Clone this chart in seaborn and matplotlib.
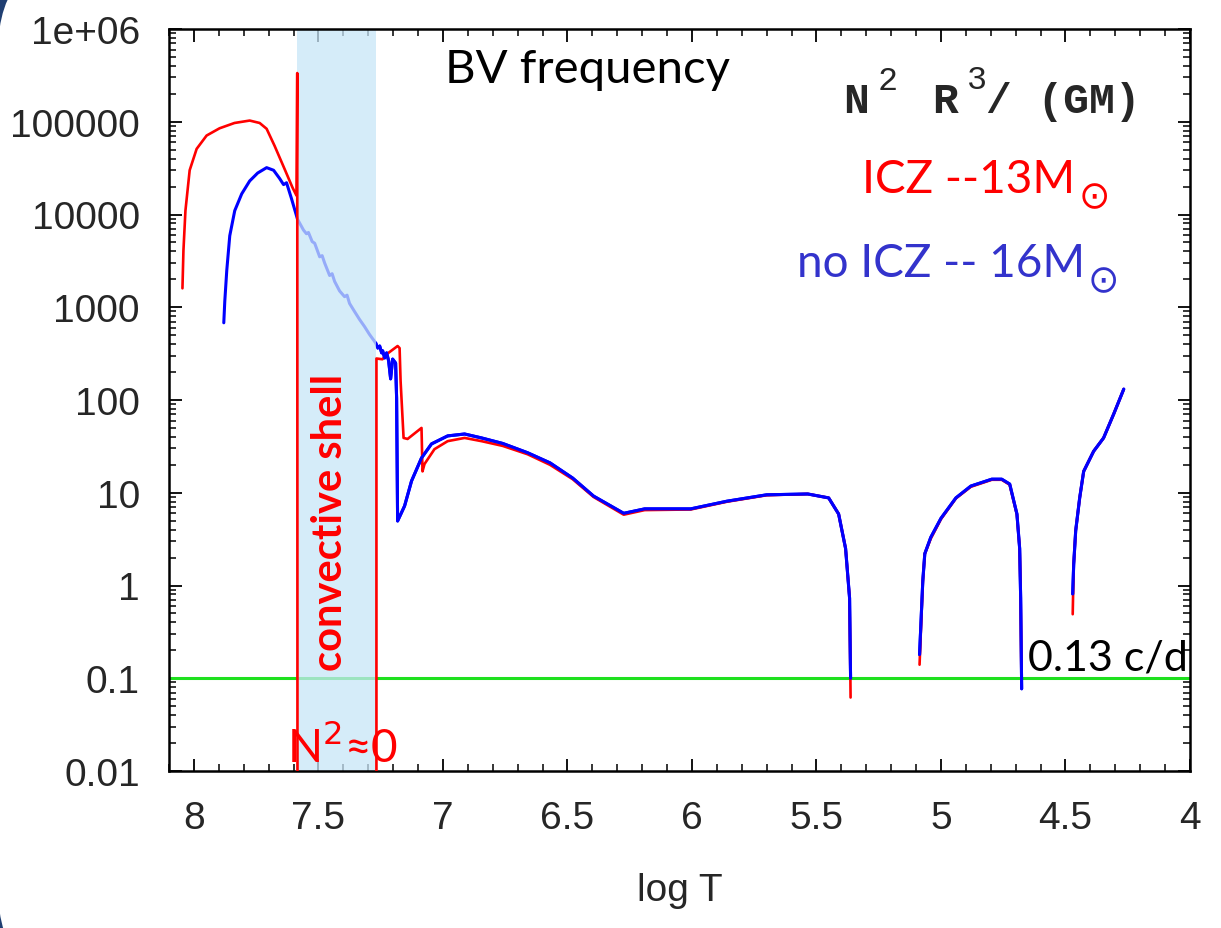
import matplotlib
matplotlib.use("Agg")
import matplotlib.pyplot as plt
import matplotlib.transforms as mtransforms
from matplotlib.patches import FancyBboxPatch, Rectangle
from matplotlib.ticker import FixedLocator, MultipleLocator, LogLocator, NullFormatter
import numpy as np
import pandas as pd
import seaborn as sns

# --- data (log T vs N^2 R^3/(GM)) ---
# ICZ model, 13 Msun
red_core_logT = [8.046, 8.042, 8.034, 8.017, 7.989, 7.949, 7.897, 7.837, 7.776, 7.736,
                 7.708, 7.676, 7.636, 7.604, 7.588, 7.585, 7.584]
red_core_N2 = [1600, 4100, 11000, 30000, 51000, 71000, 85000, 97000, 103000, 97000,
               84000, 55000, 31000, 19500, 16000, 335000, 1e-3]

red_env_logT = [7.267, 7.267, 7.243, 7.223, 7.182, 7.174, 7.170, 7.158, 7.142, 7.086,
                7.082, 7.074, 7.034, 6.981, 6.913, 6.845, 6.760, 6.660, 6.570, 6.479,
                6.395, 6.274, 6.190, 6.005, 5.860, 5.700, 5.535, 5.451, 5.411, 5.383,
                5.367, 5.363]
red_env_N2 = [1e-3, 280, 275, 316, 382, 363, 160, 39, 38, 50,
              17, 20.4, 29.5, 36, 39, 36, 32, 26, 20, 14,
              9.0, 5.8, 6.5, 6.6, 8.0, 9.4, 9.7, 8.8, 5.9, 2.5,
              0.73, 0.062]

red_mid_logT = [5.086, 5.073, 5.065, 5.041, 5.000, 4.940, 4.880, 4.796, 4.756, 4.724,
                4.695, 4.684, 4.680, 4.677]
red_mid_N2 = [0.14, 1.1, 2.2, 3.2, 5.2, 8.7, 11.6, 13.8, 13.8, 12.2,
              5.8, 2.5, 0.73, 0.1]

red_out_logT = [4.471, 4.467, 4.459, 4.443, 4.427, 4.387, 4.347, 4.306, 4.266]
red_out_N2 = [0.49, 1.7, 3.9, 8.8, 17, 28, 39, 71, 131]

# no ICZ model, 16 Msun
blue_in_logT = [7.880, 7.876, 7.868, 7.856, 7.836, 7.808, 7.776, 7.744, 7.708, 7.680,
                7.656, 7.640, 7.628, 7.608, 7.584, 7.560, 7.548, 7.540, 7.525, 7.515,
                7.495, 7.485, 7.475, 7.455, 7.445, 7.435, 7.415, 7.395, 7.385, 7.375,
                7.355, 7.335, 7.315, 7.295, 7.270, 7.262, 7.254, 7.246, 7.242, 7.234,
                7.226, 7.218, 7.210, 7.202, 7.190, 7.186, 7.182, 7.154, 7.126, 7.086,
                7.046, 6.981, 6.913, 6.845, 6.760, 6.660, 6.570, 6.479, 6.395, 6.274,
                6.190, 6.005, 5.860, 5.700, 5.535, 5.451, 5.411, 5.383, 5.367, 5.363]
blue_in_N2 = [680, 1160, 2500, 5900, 11000, 16700, 23000, 28000, 32000, 30000,
              24500, 21000, 22000, 14800, 8900, 6800, 6200, 6400, 5100, 4900,
              3500, 3600, 3000, 2200, 2300, 1900, 1500, 1300, 1350, 1100,
              900, 740, 620, 510, 412, 363, 382, 322, 339, 284,
              322, 264, 169, 276, 250, 105, 4.96, 7.2, 13.4, 23.7,
              33.6, 41, 43, 39, 34, 27, 21, 14.4, 9.2, 6.0,
              6.7, 6.7, 8.1, 9.5, 9.7, 8.8, 5.9, 2.5, 0.73, 0.1]

blue_mid_logT = [5.086, 5.073, 5.065, 5.041, 5.000, 4.940, 4.880, 4.796, 4.756, 4.724,
                 4.695, 4.684, 4.680, 4.676]
blue_mid_N2 = [0.18, 1.12, 2.2, 3.3, 5.3, 8.8, 11.8, 14, 14, 12.4,
               5.9, 2.5, 0.73, 0.077]

blue_out_logT = [4.471, 4.467, 4.459, 4.443, 4.427, 4.387, 4.347, 4.306, 4.266]
blue_out_N2 = [0.81, 1.7, 3.9, 8.8, 17, 28, 39, 71, 131]

shell_logT = [7.585, 7.267]      # convective shell edges
freq_limit = 0.1                 # 0.13 c/d line

xtick_vals = [8, 7.5, 7, 6.5, 6, 5.5, 5, 4.5, 4]
xtick_labels = ["8", "7.5", "7", "6.5", "6", "5.5", "5", "4.5", "4"]
ytick_vals = [1e6, 1e5, 1e4, 1e3, 100, 10, 1, 0.1, 0.01]
ytick_labels = ["1e+06", "100000", "10000", "1000", "100", "10", "1", "0.1", "0.01"]


def make_df(segments):
    frames = []
    for i, (x, y) in enumerate(segments):
        frames.append(pd.DataFrame({"logT": x, "N2": y, "seg": i}))
    return pd.concat(frames, ignore_index=True)


red_df = make_df([(red_core_logT, red_core_N2), (red_env_logT, red_env_N2),
                  (red_mid_logT, red_mid_N2), (red_out_logT, red_out_N2)])
blue_df = make_df([(blue_in_logT, blue_in_N2), (blue_mid_logT, blue_mid_N2),
                   (blue_out_logT, blue_out_N2)])

sns.set_style("ticks")
plt.rcParams["font.family"] = ["Liberation Sans", "DejaVu Sans"]

fig = plt.figure(figsize=(12.21, 9.29), dpi=100)
fig.patch.set_facecolor("#203f72")
# white slide panel with rounded corners
panel = FancyBboxPatch((-2, -60), 1400, 1036, boxstyle="round,pad=0,rounding_size=100",
                       facecolor="white", edgecolor="none",
                       transform=mtransforms.IdentityTransform(), zorder=-10)
fig.patches.append(panel)

ax = fig.add_axes([169 / 1221, 1 - 772 / 929, 1021 / 1221, 742 / 929])
ax.set_zorder(1)
ax.set_facecolor("white")
ax.set_yscale("log")

red = "#ff0000"
blue = "#0000ff"

sns.lineplot(data=red_df, x="logT", y="N2", units="seg", estimator=None, sort=False,
             color=red, lw=1.9, ax=ax, zorder=3)
sns.lineplot(data=blue_df, x="logT", y="N2", units="seg", estimator=None, sort=False,
             color=blue, lw=2.2, ax=ax, zorder=2)
n_before = len(ax.lines)
# blue again on top of red, but only outside the shell
sns.lineplot(data=blue_df, x="logT", y="N2", units="seg", estimator=None, sort=False,
             color=blue, lw=2.2, ax=ax, zorder=5)
trans = mtransforms.blended_transform_factory(ax.transData, ax.transAxes)
for ln in ax.lines[n_before:]:
    clip = Rectangle((3.9, 0), shell_logT[1] - 3.9 - 0.004, 1, transform=trans)
    ln.set_clip_path(clip)

ax.axvspan(shell_logT[1], shell_logT[0], color="#c8e6f8", alpha=0.75, lw=0, zorder=2.5)
ax.axhline(freq_limit, color="#1ee01e", lw=2.2, zorder=1)

ax.set_xlim(8.1, 4.0)
ax.set_ylim(0.01, 1e6)

ax.xaxis.set_major_locator(FixedLocator(xtick_vals))
ax.set_xticklabels(xtick_labels)
ax.xaxis.set_minor_locator(MultipleLocator(0.1))
ax.yaxis.set_major_locator(FixedLocator(ytick_vals))
ax.set_yticklabels(ytick_labels)
ax.yaxis.set_minor_locator(LogLocator(base=10, subs=np.arange(2, 10), numticks=20))
ax.yaxis.set_minor_formatter(NullFormatter())

ax.tick_params(which="both", direction="in", top=True, right=True, color="black")
ax.tick_params(which="major", length=9, width=1.3, labelsize=28, pad=21)
ax.tick_params(which="minor", length=5, width=1.1)
for s in ax.spines.values():
    s.set_linewidth(1.8)
    s.set_color("black")

ax.set_xlabel("log T", fontsize=28, labelpad=26)
ax.set_ylabel("")

cal = ["Lato", "DejaVu Sans"]
mono = ["Liberation Mono", "DejaVu Sans Mono"]
ax.text(0.410, 0.946, "BV frequency", transform=ax.transAxes, ha="center", va="center",
        fontsize=34, family=cal, color="black")

# N^2 R^3/(GM) built from pieces, courier-like bold
ax.text(0.660, 0.888, "N", transform=ax.transAxes, ha="left", va="baseline",
        fontsize=31, family=mono, fontweight="bold")
ax.text(0.694, 0.919, "2", transform=ax.transAxes, ha="left", va="baseline",
        fontsize=24, family=mono)
ax.text(0.747, 0.888, "R", transform=ax.transAxes, ha="left", va="baseline",
        fontsize=31, family=mono, fontweight="bold")
ax.text(0.782, 0.921, "3", transform=ax.transAxes, ha="left", va="baseline",
        fontsize=24, family=mono)
ax.text(0.800, 0.888, "/ (GM)", transform=ax.transAxes, ha="left", va="baseline",
        fontsize=31, family=mono, fontweight="bold")

t1 = ax.text(0.679, 0.780, "ICZ --13M", transform=ax.transAxes, ha="left",
             va="baseline", fontsize=33, family=cal, color=red)
ax.annotate("⊙", xy=(1, 0), xycoords=t1, xytext=(2, 2), textcoords="offset points",
            ha="left", va="center", fontsize=27, family=["DejaVu Sans"], color=red)
t2 = ax.text(0.615, 0.667, "no ICZ -- 16M", transform=ax.transAxes, ha="left",
             va="baseline", fontsize=33, family=cal, color="#3333cc")
ax.annotate("⊙", xy=(1, 0), xycoords=t2, xytext=(2, 2), textcoords="offset points",
            ha="left", va="center", fontsize=27, family=["DejaVu Sans"], color="#3333cc")

ax.text(0.158, 0.336, "convective shell", transform=ax.transAxes, ha="center", va="center",
        rotation=90, fontsize=30, family=cal, fontweight="bold", color=red)
ax.text(0.1156, 0.0135, r"N$^{2}$≈0", transform=ax.transAxes, ha="left", va="baseline",
        fontsize=33, family=cal, color=red)
ax.text(0.841, 0.137, "0.13 c/d", transform=ax.transAxes, ha="left", va="baseline",
        fontsize=31, family=cal, color="black")

fig.savefig("out.png", dpi=100, facecolor=fig.get_facecolor())
